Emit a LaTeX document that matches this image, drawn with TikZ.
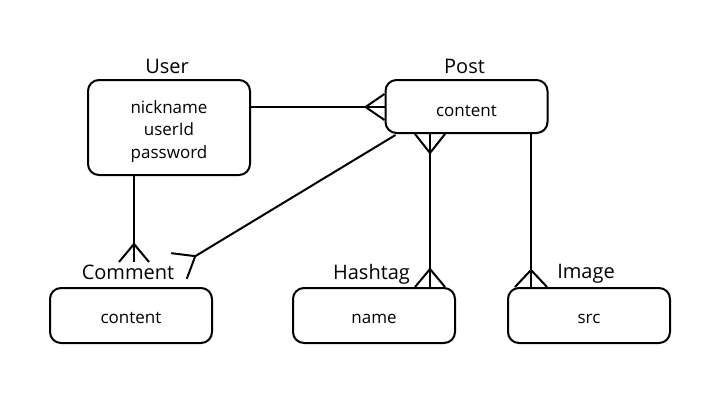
\documentclass[tikz,border=0pt]{standalone}
\usepackage{fontspec}
\setmainfont{Open Sans}
\usetikzlibrary{calc}
\newcommand{\entxt}[2]{\raisebox{-#1}[\height][\depth]{\begin{tabular}{@{}c@{}}#2\end{tabular}}}
\begin{document}
\begin{tikzpicture}[x=1pt,y=-1pt,
  ent/.style={draw, line width=2pt, rounded corners=11pt, minimum width=162pt, inner sep=0pt, font=\fontsize{17}{22.5}\selectfont},
  lbl/.style={inner sep=0pt, anchor=base, font=\fontsize{20}{24}\selectfont},
  conn/.style={line width=2pt, line join=miter}]
\useasboundingbox[fill=white] (0,0) rectangle (720,405);
% entities
\node[ent, minimum height=95pt] (user) at (169,127.5) {\entxt{3.5pt}{nickname\\userId\\password}};
\node[ent, minimum height=53pt] (post) at (466.5,106.5) {\entxt{5pt}{content}};
\node[ent, minimum height=55pt] (comment) at (131,315.5) {\entxt{3pt}{content}};
\node[ent, minimum height=55pt] (hashtag) at (374,315.5) {\entxt{3pt}{name}};
\node[ent, minimum height=55pt] (image) at (589,315.5) {\entxt{3pt}{src}};
% labels
\node[lbl] (userlbl) at (167,73) {User};
\node[lbl] (postlbl) at (464.5,73) {Post};
\node[lbl] (commentlbl) at (128,279) {Comment};
\node[lbl] (hashtaglbl) at (371.5,279) {Hashtag};
\node[lbl] (imagelbl) at (586,278) {Image};
% User -- Post (many at Post)
\coordinate (pw) at ($(post.west)+(0,0.5)$);
\coordinate (upa) at (user.east |- pw);
\draw[conn] (upa) -- (pw);
\draw[conn] ($(pw)!13pt!90:(upa)$) -- ($(pw)!19pt!(upa)$) -- ($(pw)!13pt!-90:(upa)$);
% Post -- Hashtag (many to many)
\coordinate (pa) at ($(post.south)+(-36.5,0)$);
\coordinate (ha) at (pa |- hashtag.north);
\draw[conn] (pa) -- (ha);
\draw[conn] ($(pa)!15pt!90:(ha)$) -- ($(pa)!19pt!(ha)$) -- ($(pa)!15pt!-90:(ha)$);
\draw[conn] ($(ha)!15pt!90:(pa)$) -- ($(ha)!18pt!(pa)$) -- ($(ha)!15pt!-90:(pa)$);
% Post -- Image
\coordinate (pb) at ($(post.south)+(64.5,0)$);
\coordinate (ib) at (pb |- image.north);
\draw[conn] (pb) -- (ib);
\draw[conn] ($(ib)!16pt!90:(pb)$) -- ($(ib)!17pt!(pb)$) -- ($(ib)!16pt!-90:(pb)$);
% User -- Comment
\coordinate (uc) at ($(user.south)+(-35,0)$);
\coordinate (ce) at ($(comment.north)+(3,-25)$);
\coordinate (ue) at (uc |- ce);
\draw[conn] (uc) -- (ue);
\draw[conn] ($(ue)!15pt!90:(uc)$) -- ($(ue)!18pt!(uc)$) -- ($(ue)!15pt!-90:(uc)$);
% Post -- Comment (diagonal)
\coordinate (ps) at ($(post.south west)+(11,1)$);
\coordinate (pe) at ($(comment.north)+(48,-21)$);
\draw[conn] (ps) -- ($(pe)!19pt!(ps)$);
\draw[conn] ($(pe)!15pt!90:(ps)$) -- ($(pe)!19pt!(ps)$) -- ($(pe)!15pt!-90:(ps)$);
\end{tikzpicture}
\end{document}
